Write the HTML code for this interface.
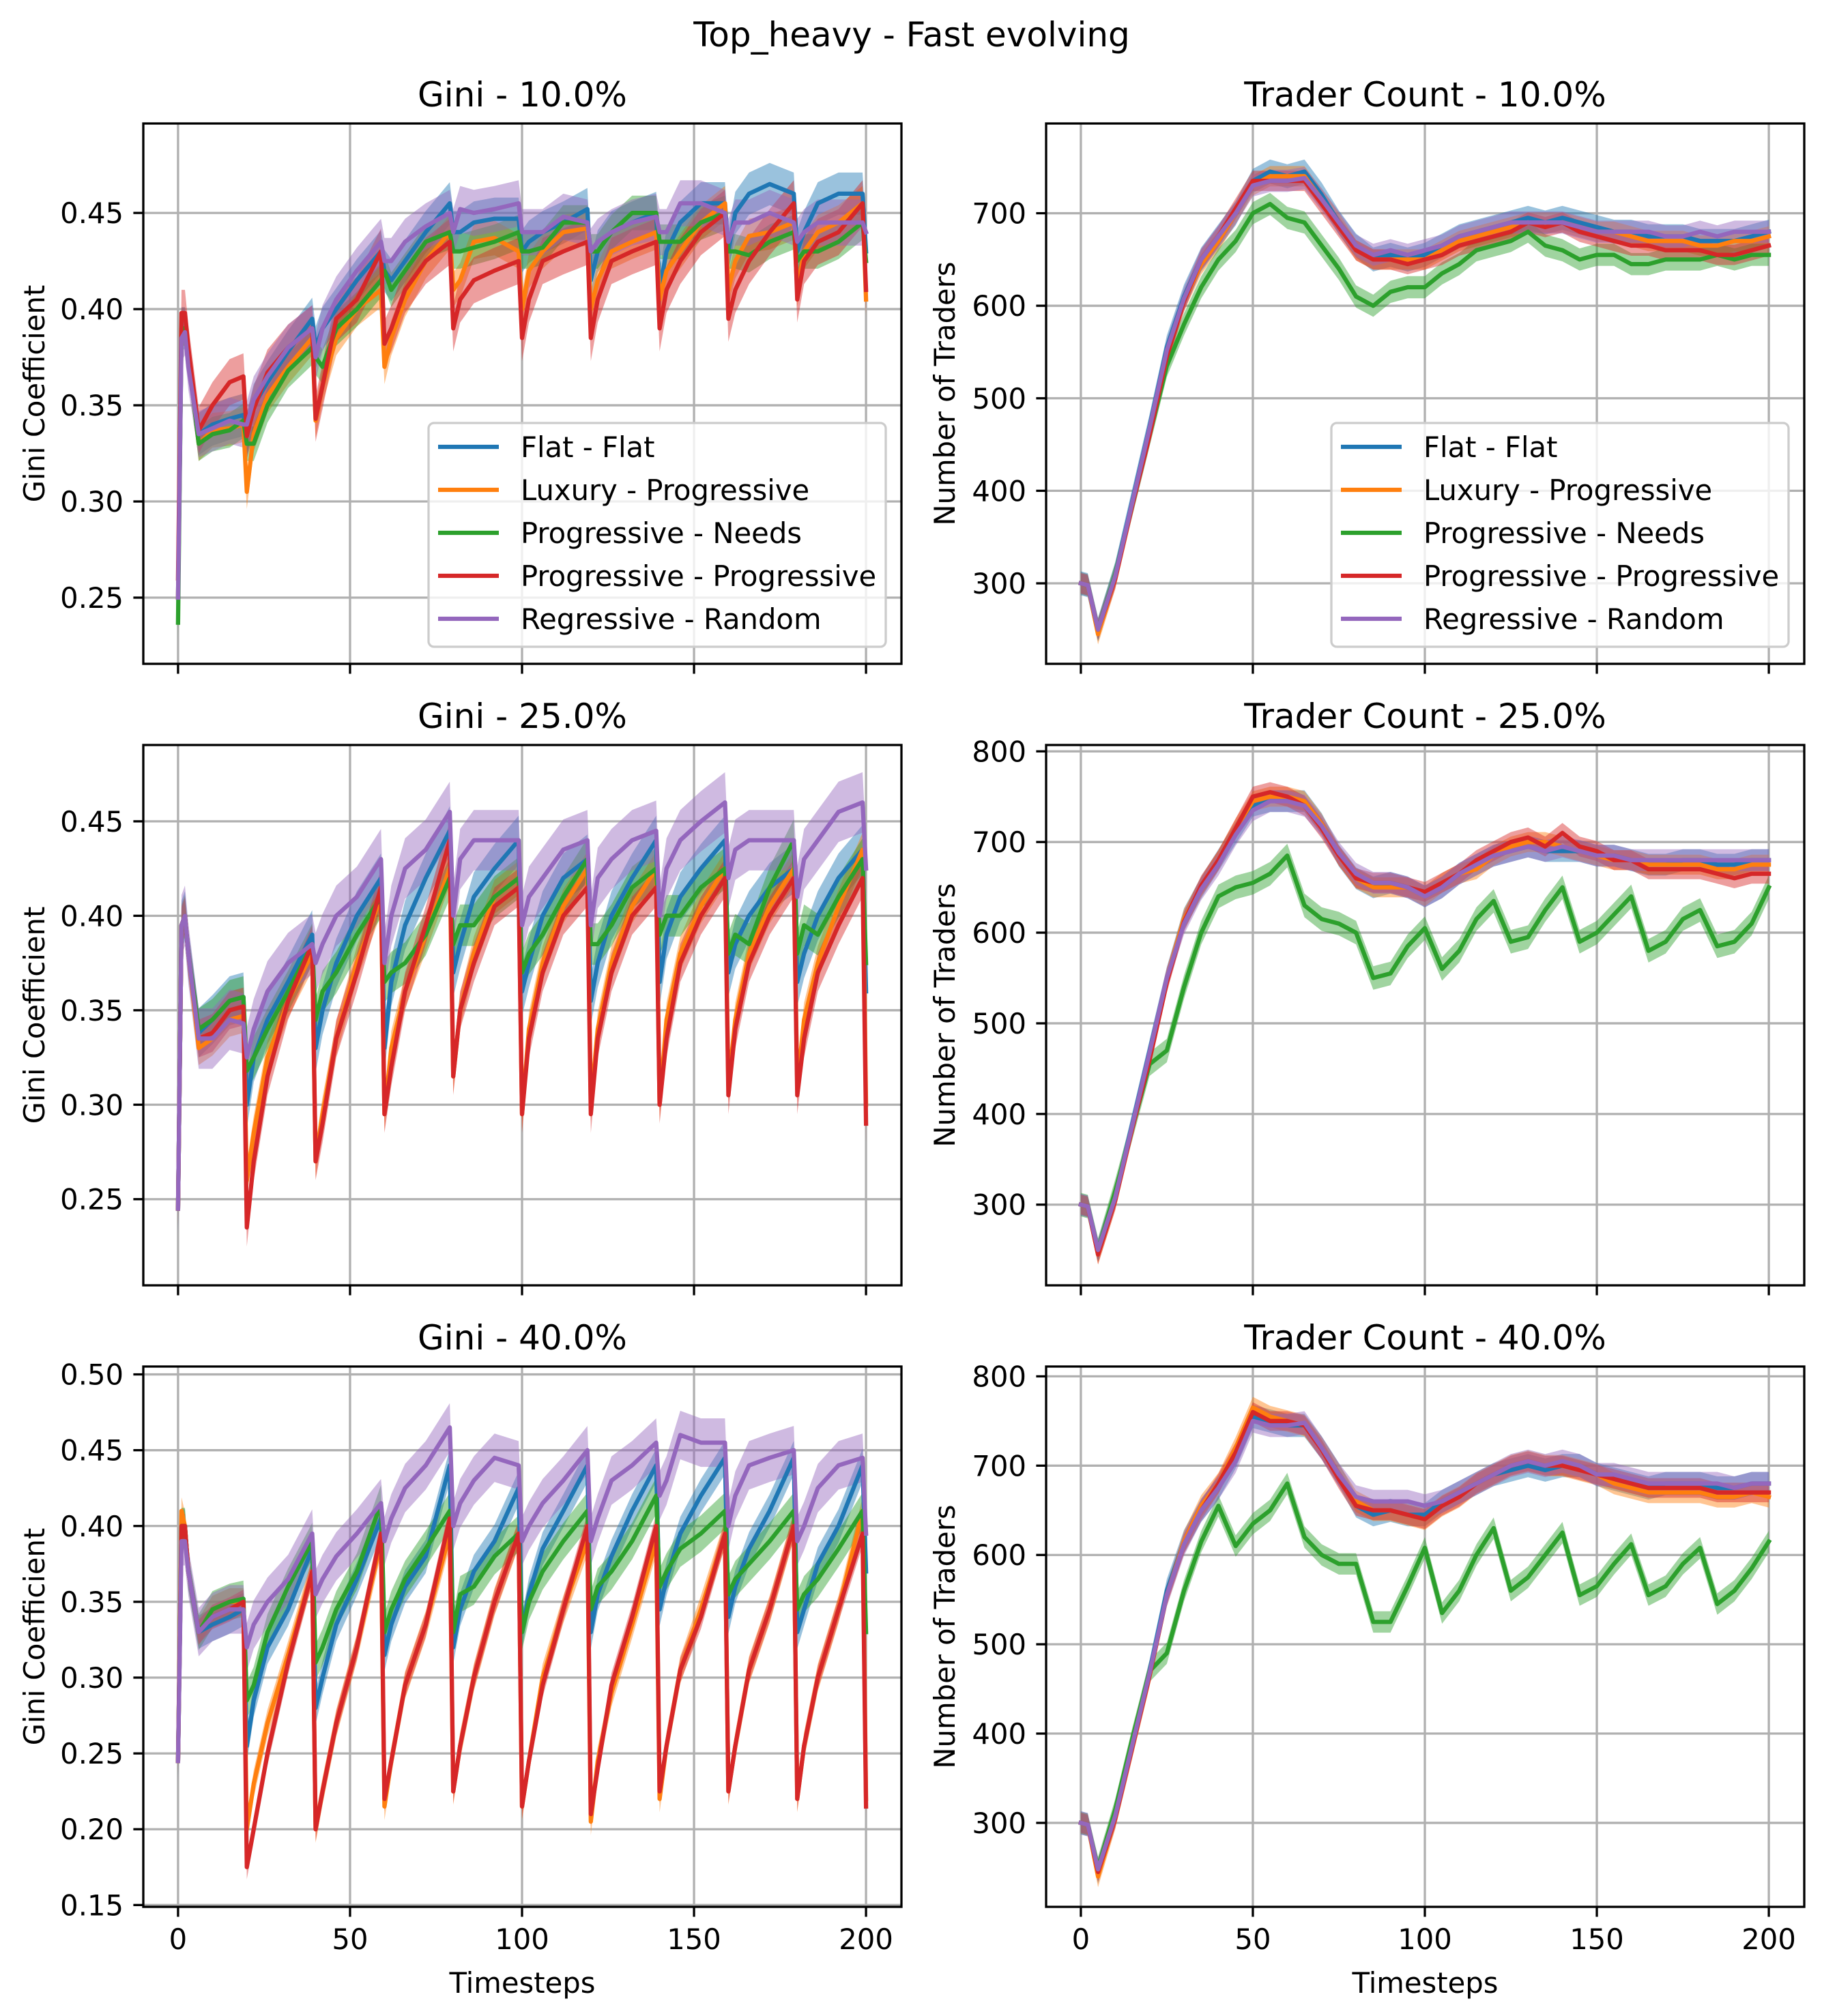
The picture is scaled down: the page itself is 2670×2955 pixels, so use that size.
<!DOCTYPE html>
<html><head><meta charset="utf-8"><style>
html,body{margin:0;padding:0;background:#fff;}
svg{display:block;font-family:"DejaVu Sans","Liberation Sans",sans-serif;}
</style></head>
<body>
<svg id="fig" width="2670" height="2955" viewBox="0 0 2670 2955" xmlns="http://www.w3.org/2000/svg">
<rect x="0" y="0" width="2670" height="2955" fill="#fff"/>
<text x="1336" y="68" font-size="50" text-anchor="middle">Top_heavy - Fast evolving</text>
</svg>
<script>
// ---- shared data ----
const seriesNames = ["Flat - Flat","Luxury - Progressive","Progressive - Needs","Progressive - Progressive","Regressive - Random"];
const seriesColors = ["#1f77b4","#ff7f0e","#2ca02c","#d62728","#9467bd"];
const xTicks = [0,50,100,150,200];
const giniTimes = [0,1,2,3,6,10,15,19,
 20,22,26,32,39, 40,42,46,52,59, 60,62,66,72,79, 80,82,86,92,99, 100,102,106,112,119,
 120,122,126,132,139, 140,142,146,152,159, 160,162,166,172,179, 180,182,186,192,199, 200];
const traderTimes = [0,2,5,10,15,20,25,30,35,40,45,50,55,60,65,70,75,80,85,90,95,100,105,110,115,120,125,130,135,140,145,150,155,160,165,170,175,180,185,190,195,200];

// Gini 10%
const gini10_flat = [.25,.39,.39,.375,.335,.340,.343,.345, .335,.35,.362,.378,.395, .38,.39,.40,.415,.43, .42,.415,.425,.44,.455, .44,.44,.445,.447,.447, .43,.435,.44,.445,.452, .415,.43,.44,.445,.45, .41,.43,.445,.455,.455, .43,.45,.46,.465,.46, .43,.44,.455,.46,.46, .43];
const gini10_luxury = [.25,.39,.39,.375,.33,.337,.338,.340, .305,.335,.355,.37,.385, .342,.36,.385,.40,.41, .37,.385,.405,.425,.44, .41,.415,.435,.437,.43, .40,.42,.43,.44,.442, .40,.415,.43,.435,.44, .405,.42,.43,.445,.455, .41,.425,.438,.44,.445, .41,.43,.44,.445,.455, .405];
const gini10_needs = [.237,.39,.39,.375,.33,.335,.337,.342, .33,.33,.35,.368,.38, .375,.37,.39,.40,.415, .42,.41,.42,.435,.44, .43,.43,.432,.435,.44, .43,.43,.432,.445,.445, .43,.43,.44,.45,.45, .435,.435,.435,.445,.45, .43,.43,.428,.435,.44, .425,.43,.43,.435,.445, .425];
const gini10_progprog = [.26,.398,.398,.38,.337,.35,.362,.365, .334,.348,.367,.38,.39, .343,.36,.395,.405,.43, .382,.39,.41,.425,.435, .39,.405,.415,.42,.425, .385,.405,.425,.43,.435, .385,.405,.425,.43,.435, .39,.41,.425,.44,.45, .395,.41,.425,.44,.455, .405,.425,.435,.44,.455, .41];
const gini10_random = [.25,.385,.388,.37,.335,.338,.342,.34, .34,.353,.365,.38,.39, .375,.39,.405,.42,.435, .425,.425,.435,.443,.45, .44,.452,.45,.452,.455, .44,.44,.44,.448,.445, .43,.435,.44,.445,.448, .44,.44,.455,.455,.45, .435,.445,.445,.45,.445, .435,.44,.445,.445,.445, .44];
const gini10_spread = [0.011,0.009,0.009,0.012,0.012];

// Gini 25%
const gini25_flat = [.245,.395,.40,.38,.338,.345,.355,.357, .30,.325,.345,.365,.39, .33,.35,.375,.40,.42, .33,.365,.395,.42,.445, .37,.385,.41,.425,.44, .36,.375,.40,.42,.43, .355,.375,.40,.42,.44, .365,.39,.41,.425,.44, .37,.385,.40,.415,.425, .365,.38,.40,.42,.435, .36];
const gini25_luxury = [.245,.395,.40,.38,.33,.335,.345,.347, .26,.285,.325,.355,.38, .27,.295,.335,.375,.41, .295,.33,.36,.39,.425, .315,.35,.38,.41,.42, .295,.34,.375,.405,.425, .30,.34,.375,.405,.425, .30,.345,.38,.405,.425, .31,.345,.38,.405,.425, .31,.345,.375,.405,.435, .30];
const gini25_needs = [.245,.395,.40,.38,.34,.345,.355,.357, .318,.325,.34,.36,.385, .345,.36,.37,.39,.41, .365,.37,.375,.39,.42, .385,.395,.395,.41,.42, .37,.38,.39,.41,.43, .385,.385,.395,.415,.425, .39,.40,.40,.415,.425, .38,.39,.385,.415,.44, .38,.395,.39,.41,.43, .375];
const gini25_progprog = [.245,.395,.40,.38,.335,.338,.35,.352, .235,.27,.315,.355,.385, .27,.29,.335,.37,.415, .295,.32,.36,.395,.44, .315,.35,.375,.405,.415, .295,.335,.37,.40,.415, .295,.335,.37,.40,.415, .30,.335,.375,.40,.42, .305,.34,.375,.40,.42, .305,.335,.37,.395,.42, .29];
const gini25_random = [.245,.395,.40,.38,.335,.335,.345,.343, .325,.34,.36,.375,.385, .375,.385,.40,.41,.43, .375,.40,.425,.435,.455, .40,.43,.44,.44,.44, .395,.41,.42,.435,.44, .395,.42,.43,.44,.445, .40,.425,.44,.45,.46, .42,.435,.44,.44,.44, .41,.43,.44,.455,.46, .425];
const gini25_spread = [0.013,0.009,0.011,0.01,0.016];

// Gini 40%
const gini40_flat = [.245,.40,.40,.37,.33,.335,.34,.345, .255,.285,.32,.345,.385, .28,.30,.335,.365,.405, .315,.335,.36,.38,.44, .32,.345,.37,.39,.425, .33,.355,.385,.41,.44, .33,.355,.38,.41,.44, .345,.365,.395,.42,.445, .34,.36,.385,.41,.445, .33,.345,.375,.40,.44, .37];
const gini40_luxury = [.245,.41,.40,.37,.33,.345,.35,.35, .20,.23,.27,.315,.37, .20,.225,.27,.32,.39, .215,.245,.295,.335,.395, .225,.255,.30,.35,.395, .215,.245,.30,.345,.39, .205,.245,.29,.335,.39, .22,.255,.305,.345,.395, .225,.255,.305,.345,.40, .22,.255,.30,.345,.41, .22];
const gini40_needs = [.245,.40,.40,.37,.33,.345,.35,.352, .285,.295,.33,.36,.39, .31,.32,.345,.37,.415, .33,.345,.365,.385,.41, .33,.355,.36,.38,.395, .33,.35,.37,.39,.41, .345,.36,.37,.39,.42, .36,.37,.385,.395,.41, .355,.365,.375,.39,.41, .345,.355,.365,.385,.41, .33];
const gini40_progprog = [.245,.40,.40,.37,.33,.34,.345,.35, .175,.20,.25,.31,.37, .20,.225,.27,.32,.395, .22,.245,.295,.335,.405, .225,.255,.30,.35,.395, .215,.245,.295,.345,.40, .21,.24,.295,.34,.40, .225,.255,.305,.34,.395, .225,.255,.305,.345,.40, .22,.255,.30,.345,.395, .215];
const gini40_random = [.245,.39,.39,.37,.33,.34,.345,.345, .32,.335,.35,.365,.395, .355,.365,.38,.395,.415, .39,.405,.425,.44,.465, .40,.415,.43,.445,.44, .39,.40,.415,.43,.45, .39,.405,.43,.44,.455, .42,.43,.46,.455,.455, .40,.42,.44,.445,.45, .39,.40,.425,.44,.445, .395];
const gini40_spread = [0.011,0.009,0.012,0.008,0.016];

// Trader count 10%
const trader10_flat = [300,298,250,310,390,470,555,610,650,675,700,735,745,740,745,720,690,665,650,655,650,655,665,675,680,685,690,695,690,695,690,685,680,680,675,675,675,670,670,670,675,680];
const trader10_luxury = [300,298,245,305,385,465,550,605,645,670,700,730,740,740,740,715,690,660,650,650,650,650,660,670,675,680,685,690,690,690,685,680,680,675,670,670,670,665,665,670,670,675];
const trader10_needs = [300,298,250,310,385,460,535,580,620,650,670,700,710,695,690,665,640,610,600,615,620,620,635,645,660,665,670,680,665,660,650,655,655,645,645,650,650,650,655,650,655,655];
const trader10_progprog = [300,298,250,305,385,460,545,605,650,675,705,735,735,735,735,710,685,660,650,650,645,650,655,665,670,675,680,690,685,690,680,675,670,665,665,660,660,660,655,655,660,665];
const trader10_random = [300,298,250,308,388,468,552,608,650,675,700,730,735,735,738,715,690,665,655,660,655,660,665,675,680,685,690,690,690,690,685,680,680,680,680,675,675,680,675,680,680,680];
const trader10_spread = [13,11,12,11,12];

// Trader count 25%
const trader25_flat = [300,298,250,310,390,470,550,615,650,680,710,740,745,745,745,720,685,660,650,655,650,640,650,665,675,685,690,695,690,690,690,685,685,680,675,675,680,680,675,675,680,680];
const trader25_luxury = [300,298,245,305,385,465,550,615,650,680,715,745,750,750,745,720,685,660,650,650,650,640,655,665,670,685,695,700,700,695,690,685,680,680,675,675,675,675,670,670,675,675];
const trader25_needs = [300,298,250,315,385,455,470,540,600,640,650,655,665,685,630,615,610,600,550,555,585,605,560,580,615,635,590,595,625,650,590,600,620,640,580,590,615,625,585,590,610,650];
const trader25_progprog = [300,298,245,305,385,460,545,612,652,680,715,750,755,750,740,715,685,660,655,655,650,645,655,665,680,690,700,705,695,710,695,690,680,680,670,670,670,670,665,660,665,665];
const trader25_random = [300,298,250,308,388,468,550,610,648,675,708,735,745,745,740,718,688,665,655,655,650,640,650,665,675,685,690,695,690,695,690,685,685,680,680,680,680,680,680,680,680,680];
const trader25_spread = [12,11,13,11,12];

// Trader count 40%
const trader40_flat = [300,298,245,310,390,470,560,615,650,675,710,755,750,745,745,720,690,655,645,650,645,645,660,670,680,690,695,700,695,700,700,690,685,680,675,680,680,680,675,675,680,680];
const trader40_luxury = [300,298,240,305,385,465,555,615,655,680,720,765,755,750,745,720,690,660,650,650,645,640,655,665,680,690,700,705,700,700,695,690,680,675,670,670,670,670,665,665,670,665];
const trader40_needs = [300,298,250,315,395,470,490,560,615,655,610,635,650,680,620,600,590,590,525,525,565,608,535,560,600,630,560,575,600,625,555,565,590,612,555,565,590,608,545,560,585,615];
const trader40_progprog = [300,298,245,305,385,465,555,612,650,680,715,760,750,750,745,718,685,655,650,650,645,640,655,665,680,690,700,705,700,700,695,690,685,680,675,675,675,675,670,670,670,670];
const trader40_random = [300,298,248,308,388,468,555,612,650,675,705,750,745,745,748,720,690,665,660,660,660,655,660,670,680,690,700,705,700,705,700,690,690,685,680,680,680,680,680,675,680,680];
const trader40_spread = [13,12,12,11,13];

// tick label arrays
const giniTicksA = [0.25,0.30,0.35,0.40,0.45];
const giniTicksC = [0.15,0.20,0.25,0.30,0.35,0.40,0.45,0.50];
const traderTicksA = [300,400,500,600,700];
const traderTicksB = [300,400,500,600,700,800];

const NS = "http://www.w3.org/2000/svg";
const svg = document.getElementById("fig");
function mk(tag, attrs, parent) {
  const e = document.createElementNS(NS, tag);
  for (const k in attrs) e.setAttribute(k, attrs[k]);
  (parent || svg).appendChild(e);
  return e;
}

const panels = [
  {slug:"gini-10", title:"Gini - 10.0%", x0:210, y0:181, ylim:[0.2156,0.4965], yticks:giniTicksA, fmt:2, ylabel:"Gini Coefficient", times:giniTimes,
   series:[gini10_flat,gini10_luxury,gini10_needs,gini10_progprog,gini10_random], spread:gini10_spread, legend:true, bottom:false},
  {slug:"trader-count-10", title:"Trader Count - 10.0%", x0:1533, y0:181, ylim:[213,797], yticks:traderTicksA, fmt:0, ylabel:"Number of Traders", times:traderTimes,
   series:[trader10_flat,trader10_luxury,trader10_needs,trader10_progprog,trader10_random], spread:trader10_spread, legend:true, bottom:false},
  {slug:"gini-25", title:"Gini - 25.0%", x0:210, y0:1092, ylim:[0.2044,0.4904], yticks:giniTicksA, fmt:2, ylabel:"Gini Coefficient", times:giniTimes,
   series:[gini25_flat,gini25_luxury,gini25_needs,gini25_progprog,gini25_random], spread:gini25_spread, legend:false, bottom:false},
  {slug:"trader-count-25", title:"Trader Count - 25.0%", x0:1533, y0:1092, ylim:[211,807], yticks:traderTicksB, fmt:0, ylabel:"Number of Traders", times:traderTimes,
   series:[trader25_flat,trader25_luxury,trader25_needs,trader25_progprog,trader25_random], spread:trader25_spread, legend:false, bottom:false},
  {slug:"gini-40", title:"Gini - 40.0%", x0:210, y0:2003, ylim:[0.1488,0.5052], yticks:giniTicksC, fmt:2, ylabel:"Gini Coefficient", times:giniTimes,
   series:[gini40_flat,gini40_luxury,gini40_needs,gini40_progprog,gini40_random], spread:gini40_spread, legend:false, bottom:true},
  {slug:"trader-count-40", title:"Trader Count - 40.0%", x0:1533, y0:2003, ylim:[206,811], yticks:traderTicksB, fmt:0, ylabel:"Number of Traders", times:traderTimes,
   series:[trader40_flat,trader40_luxury,trader40_needs,trader40_progprog,trader40_random], spread:trader40_spread, legend:false, bottom:true}
];

const W = 1111, H = 792, XMIN = -10.1, XMAX = 210.3;
const slugs = ["flat-flat","luxury-progressive","progressive-needs","progressive-progressive","regressive-random"];

panels.forEach((p, pi) => {
  const g = mk("g", {});
  
  
  const xs = v => p.x0 + (v - XMIN) / (XMAX - XMIN) * W;
  const ys = v => p.y0 + H - (v - p.ylim[0]) / (p.ylim[1] - p.ylim[0]) * H;

  const clip = mk("clipPath", {id:"clip" + pi}, g);
  mk("rect", {x:p.x0, y:p.y0, width:W, height:H}, clip);

  // grid
  xTicks.forEach(t => {
    const l = mk("line", {x1:xs(t), x2:xs(t), y1:p.y0, y2:p.y0+H, stroke:"#b0b0b0", "stroke-width":3.3}, g);
    
    
  });
  p.yticks.forEach(t => {
    const l = mk("line", {x1:p.x0, x2:p.x0+W, y1:ys(t), y2:ys(t), stroke:"#b0b0b0", "stroke-width":3.3, "clip-path":"url(#clip"+pi+")"}, g);
    
    
  });

  // bands then lines
  const plot = mk("g", {"clip-path":"url(#clip"+pi+")"}, g);
  p.series.forEach((vals, si) => {
    const sp = p.spread[si];
    let up = "", dn = "";
    vals.forEach((v, i) => { up += (i ? "L" : "M") + xs(p.times[i]).toFixed(1) + "," + ys(v + sp).toFixed(1); });
    for (let i = vals.length - 1; i >= 0; i--) dn += "L" + xs(p.times[i]).toFixed(1) + "," + ys(vals[i] - sp).toFixed(1);
    const band = mk("path", {d: up + dn + "Z", fill: seriesColors[si], "fill-opacity":0.45, stroke:"none"}, plot);
    
    
  });
  p.series.forEach((vals, si) => {
    let d = "";
    vals.forEach((v, i) => { d += (i ? "L" : "M") + xs(p.times[i]).toFixed(1) + "," + ys(v).toFixed(1); });
    const line = mk("path", {d, fill:"none", stroke: seriesColors[si], "stroke-width":6.25, "stroke-linejoin":"round", "stroke-linecap":"square"}, plot);
    
    
  });

  // spines
  const frame = mk("rect", {x:p.x0, y:p.y0, width:W, height:H, fill:"none", stroke:"#000", "stroke-width":3.3}, g);
  
  

  // x ticks
  xTicks.forEach(t => {
    mk("line", {x1:xs(t), x2:xs(t), y1:p.y0+H, y2:p.y0+H+14.6, stroke:"#000", "stroke-width":3.3}, g);
    if (p.bottom) {
      const tx = mk("text", {x:xs(t), y:p.y0+H+62, "font-size":41.7, "text-anchor":"middle"}, g);
      tx.textContent = String(t);
      
      
    }
  });
  // y ticks
  p.yticks.forEach(t => {
    mk("line", {x1:p.x0-14.6, x2:p.x0, y1:ys(t), y2:ys(t), stroke:"#000", "stroke-width":3.3}, g);
    const tx = mk("text", {x:p.x0-29, y:ys(t)+15, "font-size":41.7, "text-anchor":"end"}, g);
    tx.textContent = t.toFixed(p.fmt);
    
    
  });

  const title = mk("text", {x:p.x0+W/2, y:p.y0-25, "font-size":50, "text-anchor":"middle"}, g);
  title.textContent = p.title;
  
  

  const yl = p.x0 - (p.fmt === 2 ? 145 : 134);
  const ylab = mk("text", {x:yl, y:p.y0+H/2, "font-size":41.7, "text-anchor":"middle", transform:"rotate(-90 "+yl+" "+(p.y0+H/2)+")"}, g);
  ylab.textContent = p.ylabel;
  
  

  if (p.bottom) {
    const xl = mk("text", {x:p.x0+W/2, y:2921, "font-size":41.7, "text-anchor":"middle"}, g);
    xl.textContent = "Timesteps";
    
    
  }

  if (p.legend) {
    const lg = mk("g", {}, g);
    
    
    const lx = p.x0 + 418, ly = p.y0 + 439;
    mk("rect", {x:lx, y:ly, width:670, height:328, rx:8, fill:"#fff", "fill-opacity":0.8, stroke:"#cccccc", "stroke-width":3.3}, lg);
    seriesNames.forEach((nm, si) => {
      const cy = ly + 35 + si * 63;
      const ent = mk("g", {}, lg);
      
      
      mk("line", {x1:lx+14, x2:lx+103, y1:cy, y2:cy, stroke:seriesColors[si], "stroke-width":6.25}, ent);
      const tx = mk("text", {x:lx+135, y:cy+15, "font-size":41.7}, ent);
      tx.textContent = nm;
    });
  }
});
</script>
</body></html>
